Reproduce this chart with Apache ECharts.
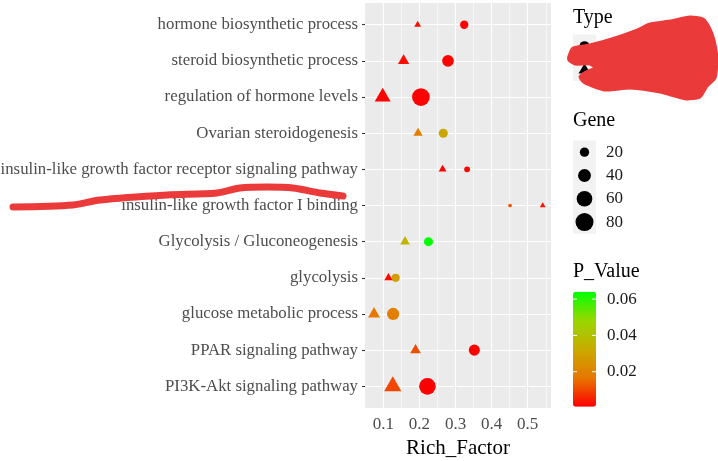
<!DOCTYPE html>
<html><head><meta charset="utf-8">
<script src="https://cdn.jsdelivr.net/npm/echarts@6/dist/echarts.min.js"></script>
<style>html,body{margin:0;padding:0;background:#fff}#c{width:718px;height:461px}</style>
</head><body><div id="c"></div>
<script>
// categories bottom -> top
const categories = [
  'PI3K-Akt signaling pathway',
  'PPAR signaling pathway',
  'glucose metabolic process',
  'glycolysis',
  'Glycolysis / Gluconeogenesis',
  'insulin-like growth factor I binding',
  'insulin-like growth factor receptor signaling pathway',
  'Ovarian steroidogenesis',
  'regulation of hormone levels',
  'steroid biosynthetic process',
  'hormone biosynthetic process'
];
// Type 1 (circles)
const circleRich = [0.222, 0.352, 0.127, 0.134, 0.225, 0.451, 0.332, 0.266, 0.204, 0.279, 0.324];
const circleGene = [68, 29, 36, 15, 19, 2, 7, 19, 77, 33, 16];
const circlePval = [0.0007, 0.001, 0.019, 0.028, 0.0641, 0.012, 0.001, 0.031, 0.0008, 0.001, 0.001];
// Type 2 (triangles)
const triRich = [0.126, 0.189, 0.074, 0.114, 0.160, 0.5415, 0.264, 0.196, 0.098, 0.156, 0.195];
const triGene = [73, 27, 34, 16, 22, 7, 14, 20, 62, 30, 10];
const triPval = [0.010, 0.011, 0.017, 0.002, 0.036, 0.003, 0.001, 0.018, 0.001, 0.002, 0.002];

const xTicks = [0.1, 0.2, 0.3, 0.4, 0.5];
const xMinor = [0.15, 0.25, 0.35, 0.45, 0.55];
const geneBreaks = [20, 40, 60, 80];
const pBreaks = [0.02, 0.04, 0.06];
const pMin = 0.0007, pMax = 0.0641;
const xMin = 0.049, xMax = 0.5645;

const FONT = "'Liberation Serif','Times New Roman',serif";
const gradColors = ['#FF0000', '#E77700', '#C9AB00', '#98D700', '#00FF00'];
function diam(g) { return Math.sqrt(6 + 4 * g); }

const yIdx = categories.map((c, i) => i);
const circleData = categories.map((c, i) => [circleRich[i], i, circleGene[i], circlePval[i]]);
const triData = categories.map((c, i) => [triRich[i], i, triGene[i], triPval[i]]);

const gridLines = [];
xTicks.forEach(v => gridLines.push({ xAxis: v, lineStyle: { color: '#fff', width: 1.1, type: 'solid' } }));
xMinor.forEach(v => gridLines.push({ xAxis: v, lineStyle: { color: '#fff', width: 0.55, type: 'solid' } }));
yIdx.forEach(v => gridLines.push({ yAxis: v, lineStyle: { color: '#fff', width: 1.1, type: 'solid' } }));

// legend graphics
const graphics = [];
const LX = 573, LW = 23, KH = 23.3;
// Type legend
graphics.push({ type: 'text', left: LX, top: 8, style: { text: 'Type', font: '20px ' + FONT, fill: '#000' } });
graphics.push({ type: 'rect', shape: { x: LX, y: 34.5, width: LW, height: KH * 2 }, style: { fill: '#F2F2F2' } });
graphics.push({ type: 'circle', shape: { cx: LX + LW / 2, cy: 34.5 + KH / 2, r: 5 }, style: { fill: '#000' } });
graphics.push({ type: 'polygon', shape: { points: [[LX + LW / 2, 34.5 + KH * 1.5 - 6], [LX + LW / 2 - 6, 34.5 + KH * 1.5 + 4], [LX + LW / 2 + 6, 34.5 + KH * 1.5 + 4]] }, style: { fill: '#000' } });
// Gene legend
graphics.push({ type: 'text', left: LX, top: 111, style: { text: 'Gene', font: '20px ' + FONT, fill: '#000' } });
const gTop = 140.5;
graphics.push({ type: 'rect', shape: { x: LX, y: gTop, width: LW, height: KH * geneBreaks.length }, style: { fill: '#F2F2F2' } });
geneBreaks.forEach((g, k) => {
  const cy = gTop + KH * (k + 0.5);
  graphics.push({ type: 'circle', shape: { cx: LX + LW / 2, cy: cy, r: diam(g) / 2 }, style: { fill: '#000' } });
  graphics.push({ type: 'text', x: 606, y: cy, style: { text: String(g), font: '17px ' + FONT, fill: '#1a1a1a', textVerticalAlign: 'middle' } });
});
// P_Value legend
graphics.push({ type: 'text', left: LX, top: 262, style: { text: 'P_Value', font: '20px ' + FONT, fill: '#000' } });
const barTop = 291.7, barH = 115;
pBreaks.forEach(p => {
  const y = barTop + (pMax - p) / (pMax - pMin) * barH;
  graphics.push({ type: 'text', x: 607, y: y, style: { text: p.toFixed(2), font: '17px ' + FONT, fill: '#1a1a1a', textVerticalAlign: 'middle' }, z: 10 });
  graphics.push({ type: 'line', shape: { x1: LX, y1: y, x2: LX + 4, y2: y }, style: { stroke: '#fff', lineWidth: 1 }, z: 10 });
  graphics.push({ type: 'line', shape: { x1: LX + LW - 4, y1: y, x2: LX + LW, y2: y }, style: { stroke: '#fff', lineWidth: 1 }, z: 10 });
});
// red scribbles present in the reference
const scribbleColor = '#EB3A3A';
graphics.push({ type: 'polyline', z: 20, shape: { points: [[13, 207], [73, 205], [100, 200], [167, 195], [217, 193], [240, 188], [267, 187], [293, 188], [320, 193], [343, 196]], smooth: 0.3 }, style: { stroke: scribbleColor, lineWidth: 7, lineCap: 'round', lineJoin: 'round', fill: null } });
graphics.push({ type: 'polygon', z: 20, shape: { points: [[569, 56], [573, 48], [590, 45], [615, 38], [635, 31], [650, 24], [670, 21], [690, 17], [703, 19], [709, 27], [714, 40], [717, 60], [715, 78], [707, 86], [700, 97], [686, 99], [660, 92], [630, 88], [605, 90], [585, 83], [580, 77], [586, 72], [595, 68], [590, 64], [575, 64], [569, 60]], smooth: 0.2 }, style: { fill: scribbleColor, stroke: scribbleColor, lineWidth: 3, lineJoin: 'round' } });

const option = {
  animation: false,
  backgroundColor: '#fff',
  grid: { left: 365, right: 167, top: 3, bottom: 53, show: true, backgroundColor: '#EBEBEB', borderWidth: 0, outerBoundsMode: 'none', containLabel: false },
  xAxis: {
    type: 'value', min: xMin, max: xMax,
    splitLine: { show: false }, axisLine: { show: false },
    axisTick: { show: true, customValues: xTicks, length: 3, lineStyle: { color: '#333', width: 1.1 } },
    axisLabel: { customValues: xTicks, color: '#4D4D4D', fontSize: 17, fontFamily: FONT, margin: 8, formatter: v => (+v).toFixed(1) },
    name: 'Rich_Factor', nameLocation: 'middle', nameGap: 37,
    nameTextStyle: { fontSize: 21, fontFamily: FONT, color: '#000', verticalAlign: 'middle' }
  },
  yAxis: {
    type: 'value', min: -0.6, max: categories.length - 1 + 0.6,
    splitLine: { show: false }, axisLine: { show: false },
    axisTick: { show: true, customValues: yIdx, length: 3, lineStyle: { color: '#333', width: 1.1 } },
    axisLabel: { customValues: yIdx, color: '#4D4D4D', fontSize: 16.8, fontFamily: FONT, margin: 7, formatter: v => categories[Math.round(v)] || '' }
  },
  visualMap: {
    type: 'continuous', min: pMin, max: pMax, dimension: 3, seriesIndex: [0, 1],
    left: LX, top: barTop, itemWidth: LW, itemHeight: barH, padding: 0,
    calculable: false, hoverLink: false, text: null,
    inRange: { color: gradColors }
  },
  series: [
    {
      type: 'scatter', name: 'circle', symbol: 'circle', data: circleData,
      symbolSize: v => diam(v[2]), itemStyle: { opacity: 1 },
      markLine: { silent: true, symbol: 'none', z: 1, label: { show: false }, animation: false, data: gridLines }
    },
    {
      type: 'scatter', name: 'triangle', symbol: 'triangle', data: triData,
      symbolSize: v => { const d = diam(v[2]); return [d, d * 0.866]; },
      symbolOffset: [0, '-16.7%'], itemStyle: { opacity: 1 }
    }
  ],
  graphic: graphics
};
const chart = echarts.init(document.getElementById('c'));
chart.setOption(option);
</script></body></html>
